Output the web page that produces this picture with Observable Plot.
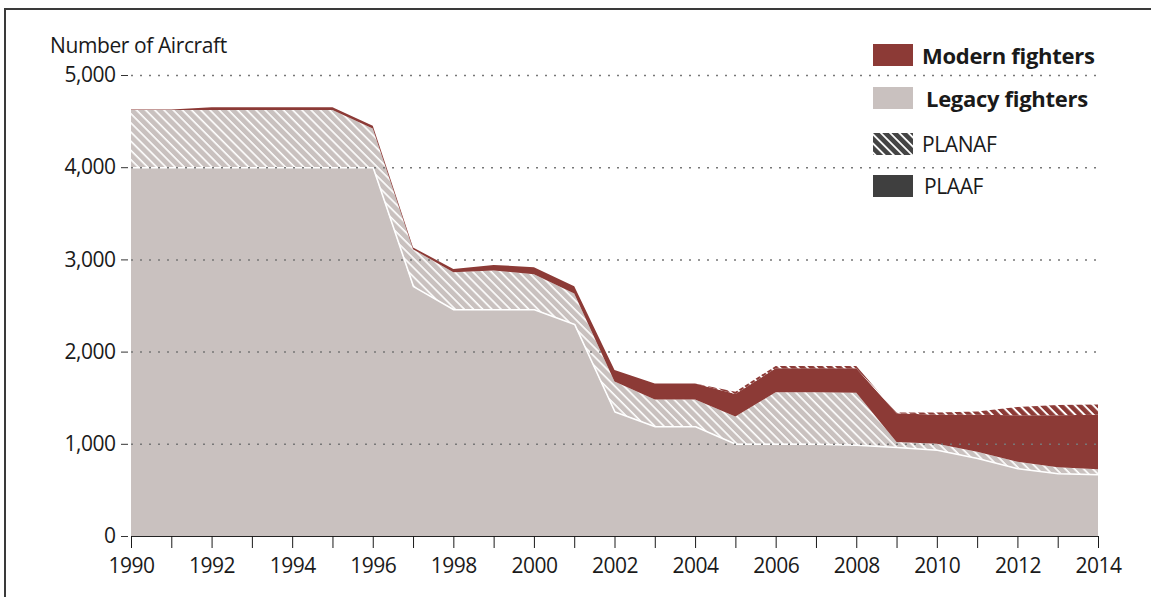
<!DOCTYPE html>
<html>
<head>
<meta charset="utf-8">
<script src="https://cdn.jsdelivr.net/npm/d3@7"></script>
<script src="https://cdn.jsdelivr.net/npm/@observablehq/plot@0.6"></script>
<style>
  html, body { margin: 0; padding: 0; background: #fff; }
  #wrap { position: relative; width: 1151px; height: 597px; overflow: hidden; font-family: "Open Sans", sans-serif; color: #1a1a1a; }
  #frame { position: absolute; left: 4px; top: 8px; width: 1300px; height: 800px; border-top: 2px solid #3a3a3a; border-left: 2px solid #3a3a3a; }
  #chart { position: absolute; left: 0; top: 0; }
  #ylabel { position: absolute; left: 50px; top: 35px; font-size: 21px; letter-spacing: -0.4px; line-height: 1; }
  .leg { position: absolute; left: 873px; display: flex; align-items: center; }
  .sw { width: 40px; height: 22px; margin-right: 9px; }
  .leg span { font-size: 21px; letter-spacing: -0.4px; line-height: 1; }
  .leg span.b { font-weight: 700; font-size: 22px; letter-spacing: -0.3px; }
</style>
</head>
<body>
<div id="wrap">
  <div id="frame"></div>
  <div id="chart"></div>
  <div id="ylabel">Number of Aircraft</div>
  <div class="leg" style="top:44px"><svg class="sw"><rect width="40" height="22" fill="#8c3a36"/></svg><span class="b">Modern fighters</span></div>
  <div class="leg" style="top:87px"><svg class="sw"><rect width="40" height="22" fill="#c9c1bf"/></svg><span class="b" style="margin-left:4px">Legacy fighters</span></div>
  <div class="leg" style="top:133px"><svg class="sw"><defs><pattern id="hl" width="6.5" height="6.5" patternUnits="userSpaceOnUse" patternTransform="rotate(45)"><rect width="6.5" height="6.5" fill="#444"/><rect width="6.5" height="1.8" fill="#fff"/></pattern></defs><rect width="40" height="22" fill="url(#hl)"/></svg><span>PLANAF</span></div>
  <div class="leg" style="top:175px"><svg class="sw"><rect width="40" height="22" fill="#3f3f3f"/></svg><span style="margin-left:2px">PLAAF</span></div>
</div>
<script>
const years = [1990,1991,1992,1993,1994,1995,1996,1997,1998,1999,2000,2001,2002,2003,2004,2005,2006,2007,2008,2009,2010,2011,2012,2013,2014];
const legacyPLAAF  = [4000,4000,4000,4000,4000,4000,4000,2710,2460,2460,2460,2300,1350,1190,1190,1000,1000,1000,990,965,935,845,735,680,670];
const legacyPLANAF = [620,620,620,620,620,620,420,400,400,420,380,330,325,290,290,295,560,560,565,55,65,70,70,65,55];
const modernPLAAF  = [5,5,30,30,30,30,30,20,35,60,75,80,125,175,175,245,260,260,265,310,315,400,505,565,590];
const modernPLANAF = [0,0,0,0,0,0,0,0,0,0,0,0,0,0,0,25,25,25,25,10,25,35,90,110,110];
const seriesNames = ["Legacy PLAAF","Legacy PLANAF","Modern PLAAF","Modern PLANAF"];
const yTicks = [0,1000,2000,3000,4000,5000];

const seriesValues = [legacyPLAAF, legacyPLANAF, modernPLAAF, modernPLANAF];
const fills = {"Legacy PLAAF":"#c9c1bf","Legacy PLANAF":"url(#hatchGray)","Modern PLAAF":"#8c3a36","Modern PLANAF":"url(#hatchRed)"};
const table = [];
seriesNames.forEach((s, k) => years.forEach((yr, i) => table.push({year: yr, series: s, value: seriesValues[k][i]})));
const legacyTotal = years.map((yr, i) => ({year: yr, value: legacyPLAAF[i]}));

const plot = Plot.plot({
  width: 1151, height: 597,
  marginLeft: 131, marginRight: 53, marginTop: 75, marginBottom: 61,
  style: {fontFamily: "Open Sans, sans-serif", fontSize: "21px", color: "#1a1a1a", letterSpacing: "-0.5px", background: "transparent"},
  x: {domain: [1990, 2014]},
  y: {domain: [0, 5000]},
  color: {type: "identity"},
  marks: [
    Plot.areaY(table, Plot.stackY({x: "year", y: "value", z: "series", order: seriesNames, fill: d => fills[d.series], curve: "linear"})),
    Plot.lineY(legacyTotal, {x: "year", y: "value", stroke: "#fff", strokeWidth: 1.6}),
    Plot.gridY(yTicks.filter(d => d > 0), {stroke: "#777", strokeOpacity: 1, strokeWidth: 1.5, strokeDasharray: "2,7"}),
    Plot.ruleY([0], {stroke: "#222", strokeWidth: 1.2}),
    Plot.axisY({ticks: yTicks, tickFormat: d3.format(","), tickSize: 7, dx: -3, tickPadding: 6, label: null, stroke: "#333"}),
    Plot.axisX({ticks: years, tickFormat: d => d % 2 === 0 ? String(d) : "", tickSize: 12, tickPadding: 10, label: null})
  ]
});
const defs = document.createElementNS("http://www.w3.org/2000/svg", "defs");
defs.innerHTML = `
<pattern id="hatchGray" width="6.5" height="6.5" patternUnits="userSpaceOnUse" patternTransform="rotate(45)">
  <rect width="6.5" height="6.5" fill="#c9c1bf"/><rect width="6.5" height="1.6" fill="#fff"/>
</pattern>
<pattern id="hatchRed" width="6.5" height="6.5" patternUnits="userSpaceOnUse" patternTransform="rotate(45)">
  <rect width="6.5" height="6.5" fill="#8c3a36"/><rect width="6.5" height="2" fill="#fff"/>
</pattern>`;
plot.insertBefore(defs, plot.firstChild);
document.getElementById("chart").appendChild(plot);
</script>
</body>
</html>
